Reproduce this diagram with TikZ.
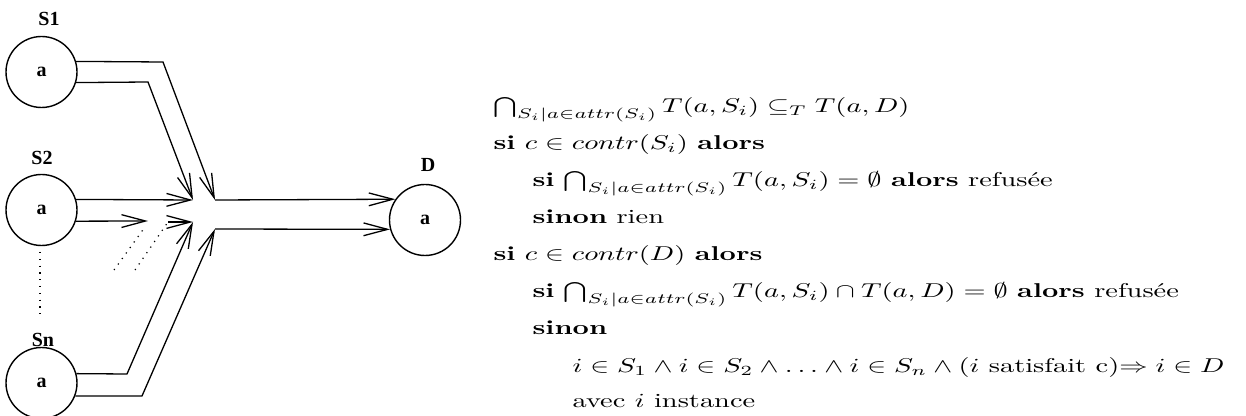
\documentclass[tikz,border=0pt]{standalone}
\usepackage{amsmath,amssymb}
\usepackage{fontspec}
\newfontfamily\labelfont{Liberation Serif}
\usetikzlibrary{arrows.meta}

\tikzset{
  site/.style={circle, draw, line width=0.7pt, minimum size=35.5pt, inner sep=0pt, font=\labelfont\bfseries},
  sitename/.style={font=\labelfont\bfseries, inner sep=0pt},
  flow/.style={line width=0.65pt, -{Straight Barb[length=12pt, width=6.4pt]}},
  gap/.style={line width=0.6pt, dash pattern=on 0.6pt off 2.8pt},
  rline/.style={anchor=base west, inner sep=0pt, xscale=1.42},
}

\begin{document}
\begin{tikzpicture}[x=0.5pt, y=-0.5pt]
  \useasboundingbox (0,0) rectangle (1246,416);
  % sources and destination
  \node[site] (S1) at (41.5,72) {a};
  \node[site] (S2) at (41.5,210) {a};
  \node[site] (Sn) at (41.5,383) {a};
  \node[site] (D) at (425,220) {a};
  \node[sitename] (S1l) at (49,19) {S1};
  \node[sitename] (S2l) at (42,158) {S2};
  \node[sitename] (Snl) at (43,340) {Sn};
  \node[sitename] (Dl) at (428,165) {D};

  % bends and meeting points
  \coordinate (b1) at (163,62);
  \coordinate (b2) at (148,82);
  \coordinate (b3) at (127,374);
  \coordinate (b4) at (142,396);
  \coordinate (j1) at (193,200);
  \coordinate (j2) at (215,200);
  \coordinate (j3) at (193,222);
  \coordinate (j4) at (215,229);
  \coordinate (m1) at (148,221);
  \coordinate (d1a) at (114,270);
  \coordinate (d1b) at (145,227);
  \coordinate (d2a) at (135,270);
  \coordinate (d2b) at (168,222);
  \coordinate (v1) at (40,252);
  \coordinate (v2) at (40,318);

  % inflows
  \draw[flow] (S1.17) -- (b1) -- (j2);
  \draw[flow] (S1.-17) -- (b2) -- (j1);
  \draw[flow] (S2.17) -- (j1);
  \draw[flow] (S2.-18) -- (m1);
  \draw[flow] (d2b) -- (j3);
  \draw[flow] (Sn.15) -- (b3) -- (j3);
  \draw[flow] (Sn.-21.5) -- (b4) -- (j4);
  \draw[gap] (d1a) -- (d1b);
  \draw[gap] (d2a) -- (d2b);
  \draw[gap] (v1) -- (v2);
  % outflow
  \draw[flow] (j2) -- (D.145);
  \draw[flow] (j4) -- (D.195);

  % rules
  \node[rline] (r1) at (493,113) {$\bigcap_{S_i|a\in attr(S_i)} T(a,S_i) \subseteq_T T(a,D)$};
  \node[rline] (r2) at (493,150) {\textbf{si} $c\in contr(S_i)$ \textbf{alors}};
  \node[rline] (r3) at (532,187) {\textbf{si} $\bigcap_{S_i|a\in attr(S_i)} T(a,S_i)=\emptyset$ \textbf{alors} refusée};
  \node[rline] (r4) at (532,224) {\textbf{sinon} rien};
  \node[rline] (r5) at (493,261) {\textbf{si} $c\in contr(D)$ \textbf{alors}};
  \node[rline] (r6) at (532,298) {\textbf{si} $\bigcap_{S_i|a\in attr(S_i)} T(a,S_i)\cap T(a,D)=\emptyset$ \textbf{alors} refusée};
  \node[rline] (r7) at (532,335) {\textbf{sinon}};
  \node[rline] (r8) at (572,372) {$i\in S_1\wedge i\in S_2\wedge\ldots\wedge i\in S_n\wedge(i$ satisfait c)$\Rightarrow i\in D$};
  \node[rline] (r9) at (572,408) {avec $i$ instance};
\end{tikzpicture}
\end{document}
